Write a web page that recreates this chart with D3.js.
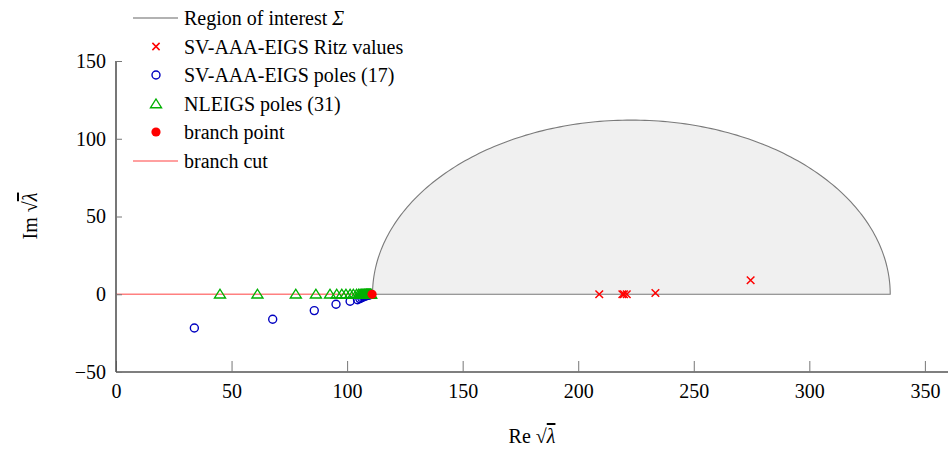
<!DOCTYPE html>
<html><head><meta charset="utf-8">
<script src="https://cdn.jsdelivr.net/npm/d3@7"></script>
<style>body{margin:0;background:#fff}svg{display:block}svg text{font-family:"Liberation Serif","Times New Roman",serif !important}</style>
</head><body><svg id="c" width="948" height="449"></svg>
<script>
const xTicks=[0,50,100,150,200,250,300,350];
const yTicks=[-50,0,50,100,150];
const region={cx:223,r:112};
const branchPoint=[110.8,0];
const ritzRe=[209.1,219.1,219.8,221.0,233.4,274.6];
const ritzIm=[0,0,0,0,0.8,9.0];
const aaaRe=[33.9,67.8,85.8,95.2,101.3,104.5,105.5,106.3,107.0,107.6,108.1,108.6,109.0,109.4,109.8,110.1,110.4];
const aaaIm=[-21.7,-16.1,-10.5,-6.4,-4.5,-3.5,-2.8,-2.2,-1.7,-1.3,-1.0,-0.8,-0.6,-0.4,-0.3,-0.2,-0.1];
const nleigsRe=[45.0,61.2,77.8,86.5,92.6,95.5,97.7,99.5,101.3,102.7,104.1,105.0,105.6,106.1,106.5,106.9,107.3,107.6,107.9,108.2,108.4,108.6,108.8,109.0,109.2,109.4,109.6,109.8,110.0,110.2,110.4];
const nleigsIm=nleigsRe.map(()=>0);
const legendLabels=["Region of interest ","SV-AAA-EIGS Ritz values","SV-AAA-EIGS poles (17)","NLEIGS poles (31)","branch point","branch cut"];

const svg=d3.select("#c");
const x=d3.scaleLinear().domain([0,360]).range([116,948]);
const y=d3.scaleLinear().domain([-50,150]).range([372,61]);
const red="#ff0000",blue="#0000c0",green="#00b000";
const serif="'Liberation Serif','Times New Roman',serif";

// region of interest (upper half disk)
const arcPts=d3.range(0,181,1).map(a=>{const t=a*Math.PI/180;return [region.cx+region.r*Math.cos(t),region.r*Math.sin(t)];});
svg.append("path").attr("d",d3.line().x(d=>x(d[0])).y(d=>y(d[1]))(arcPts)+"Z")
  .attr("fill","#f0f0f0").attr("stroke","#7a7a7a").attr("stroke-width",1.1);

// branch cut
svg.append("line").attr("x1",x(0)).attr("x2",x(branchPoint[0])).attr("y1",y(0)).attr("y2",y(0))
  .attr("stroke","#ff8080").attr("stroke-width",1.3);

// axes
const gx=svg.append("g").attr("transform",`translate(0,${y(-50)})`)
  .call(d3.axisBottom(x).tickValues(xTicks).tickSize(-11).tickPadding(12).tickFormat(d=>d));
const gy=svg.append("g").attr("transform",`translate(${x(0)},0)`)
  .call(d3.axisLeft(y).tickValues(yTicks).tickSize(-6).tickPadding(10).tickFormat(d=>d<0?"\u2212"+Math.abs(d):d));
[gx,gy].forEach(g=>{
  g.attr("font-family",serif).attr("font-size",20);
  g.select(".domain").attr("stroke","#555").attr("stroke-width",1.6);
  g.selectAll(".tick line").attr("stroke","#777").attr("stroke-width",1);
  g.selectAll(".tick text").style("font-family",serif).style("font-size","20px").attr("fill","#000");
});
gx.select(".domain").attr("d",`M${x(0)},0H948`);
gy.select(".domain").attr("d",`M0,${y(150)}V${y(-50)}`);

// markers
function cross(g,cx,cy,s){g.append("path").attr("d",`M${cx-s},${cy-s}L${cx+s},${cy+s}M${cx-s},${cy+s}L${cx+s},${cy-s}`).attr("stroke",red).attr("stroke-width",1.5).attr("fill","none");}
function tri(g,cx,cy,s){g.append("path").attr("d",`M${cx},${cy-s}L${cx+s*1.1},${cy+s*0.75}L${cx-s*1.1},${cy+s*0.75}Z`).attr("stroke",green).attr("stroke-width",1.4).attr("fill","none");}
const gm=svg.append("g");
aaaRe.forEach((v,i)=>gm.append("circle").attr("cx",x(v)).attr("cy",y(aaaIm[i])).attr("r",4).attr("fill","none").attr("stroke",blue).attr("stroke-width",1.4));
nleigsRe.forEach((v,i)=>tri(gm,x(v),y(nleigsIm[i]),5));
ritzRe.forEach((v,i)=>cross(gm,x(v),y(ritzIm[i]),3.8));
gm.append("circle").attr("cx",x(branchPoint[0])).attr("cy",y(branchPoint[1])).attr("r",4.6).attr("fill",red);

// legend
const lg=svg.append("g");
const rowY=[18,46.5,75,103.5,132,161];
const mx=156;
lg.append("line").attr("x1",133).attr("x2",178).attr("y1",rowY[0]).attr("y2",rowY[0]).attr("stroke","#666").attr("stroke-width",1.1);
cross(lg,mx,rowY[1],3.6);
lg.append("circle").attr("cx",mx).attr("cy",rowY[2]).attr("r",4).attr("fill","none").attr("stroke",blue).attr("stroke-width",1.4);
tri(lg,mx,rowY[3]+0.5,5);
lg.append("circle").attr("cx",mx).attr("cy",rowY[4]).attr("r",4.6).attr("fill",red);
lg.append("line").attr("x1",133).attr("x2",178).attr("y1",rowY[5]).attr("y2",rowY[5]).attr("stroke","#ff8080").attr("stroke-width",1.3);
legendLabels.forEach((t,i)=>{
  const tx=lg.append("text").attr("x",184).attr("y",rowY[i]).attr("dy","0.35em").attr("font-size",20).text(t);
  if(i===0) tx.append("tspan").attr("font-style","italic").text("\u03A3");
});

// axis labels
function sqrtLabel(parent,prefix){
  const t=parent.append("text").attr("font-size",20).attr("text-anchor","middle");
  t.append("tspan").text(prefix+" ");
  t.append("tspan").text("\u221A");
  t.append("tspan").attr("font-style","italic").style("text-decoration","overline").text("\u03BB");
  return t;
}
sqrtLabel(svg,"Re").attr("x",532).attr("y",443);
sqrtLabel(svg.append("g").attr("transform","translate(37,216) rotate(-90)"),"Im").attr("x",0).attr("y",0);
</script></body></html>
